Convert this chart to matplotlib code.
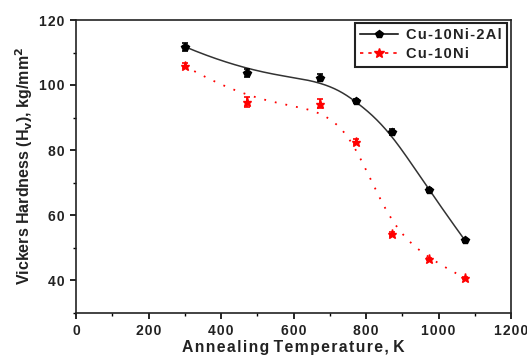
import numpy as np
import matplotlib
matplotlib.use("Agg")
import matplotlib.pyplot as plt
from matplotlib.lines import Line2D

temps = [300, 473, 673, 773, 873, 973, 1073]
hv_al = [111.8, 103.7, 102.3, 95.1, 85.5, 67.6, 52.2]
err_al = [1.2, 1.3, 1.1, 0.5, 0.9, 0.6, 0.5]
hv_ni = [105.9, 94.8, 94.3, 82.5, 54.2, 46.5, 40.6]
err_ni = [0.8, 1.5, 1.5, 0.8, 0.6, 0.4, 0.4]
xticks = [0, 200, 400, 600, 800, 1000, 1200]
yticks = [40, 60, 80, 100, 120]

TXT = "#222222"
SP = "\u200a"


def spaced(s):
    return SP.join(s)


def bspline(x, y, n=400, k=3):
    """Clamped cubic B-spline using the data points as control points (Origin-style line)."""
    P = np.column_stack([x, y]).astype(float)
    nc = len(P)
    knots = np.concatenate([np.zeros(k), np.arange(nc - k + 1), np.full(k, nc - k)]).astype(float)
    ts = np.linspace(0, nc - k, n)
    ts[-1] -= 1e-9

    def basis(i, d, t):
        if d == 0:
            return ((knots[i] <= t) & (t < knots[i + 1])).astype(float)
        out = np.zeros_like(t)
        den1 = knots[i + d] - knots[i]
        den2 = knots[i + d + 1] - knots[i + 1]
        if den1 > 0:
            out += (t - knots[i]) / den1 * basis(i, d - 1, t)
        if den2 > 0:
            out += (knots[i + d + 1] - t) / den2 * basis(i + 1, d - 1, t)
        return out

    B = np.column_stack([basis(i, k, ts) for i in range(nc)])
    C = B @ P
    return C[:, 0], C[:, 1]


plt.rcParams['font.family'] = ['Liberation Sans', 'DejaVu Sans']
fig = plt.figure(figsize=(5.27, 3.6), dpi=100)
ax = fig.add_axes([76 / 527, 1 - 312.5 / 360, (511 - 76) / 527, (312.5 - 20) / 360])

xs, ys = bspline(temps, hv_al)
ax.plot(xs, ys, color='#333333', lw=1.1, zorder=2)
ax.errorbar(temps, hv_al, yerr=err_al, fmt='p', color='black', ms=5.5,
            capsize=2.5, elinewidth=1.2, capthick=1.2, zorder=3)

xs, ys = bspline(temps, hv_ni)
ax.plot(xs, ys, color='red', lw=1.3, ls=(0, (1, 5)), zorder=2)
ax.errorbar(temps, hv_ni, yerr=err_ni, fmt='*', color='red', ms=6.5,
            capsize=2.5, elinewidth=1.2, capthick=1.2, zorder=3)

ax.set_xlim(0, 1200)
ax.set_ylim(30, 120)
ax.set_xticks(xticks)
ax.set_xticklabels([spaced(str(v)) for v in xticks])
ax.set_yticks(yticks)
ax.set_yticklabels([spaced(str(v)) for v in yticks])
ax.set_xticks(np.arange(100, 1200, 200), minor=True)
ax.set_yticks(np.arange(30, 120, 20), minor=True)
ax.tick_params(which='major', direction='out', length=4.5, width=1.2, labelsize=10,
               labelcolor=TXT, pad=4)
ax.tick_params(which='minor', direction='out', length=2.5, width=1.0)
for lab in ax.get_xticklabels() + ax.get_yticklabels():
    lab.set_fontweight('bold')
for s in ax.spines.values():
    s.set_linewidth(1.2)
    s.set_color('#222222')

ax.set_xlabel(' '.join(spaced(w) for w in 'Annealing Temperature, K'.split(' ')),
              fontsize=11.3, fontweight='bold', color=TXT, labelpad=1.5)
ax.set_ylabel('Vickers Hardness (H$_\\mathbf{v}$), kg/mm$^\\mathbf{2}$', fontsize=11.5,
              fontweight='bold', color=TXT, labelpad=3)

handles = [
    Line2D([], [], color='black', lw=1.1, marker='p', ms=5.5),
    Line2D([], [], color='red', lw=1.2, ls=(0, (2, 3)), marker='*', ms=7),
]
leg = ax.legend(handles, [spaced('Cu-10Ni-2Al'), spaced('Cu-10Ni')], loc='upper right',
                bbox_to_anchor=(0.991, 0.991), fancybox=False, edgecolor='#222222',
                prop={'weight': 'bold', 'size': 10.5}, handlelength=2.6, handletextpad=0.5,
                borderpad=0.4, labelspacing=0.3, framealpha=1, borderaxespad=0)
leg.get_frame().set_linewidth(1.5)
for t in leg.get_texts():
    t.set_color(TXT)

fig.savefig('out.png', dpi=100)
